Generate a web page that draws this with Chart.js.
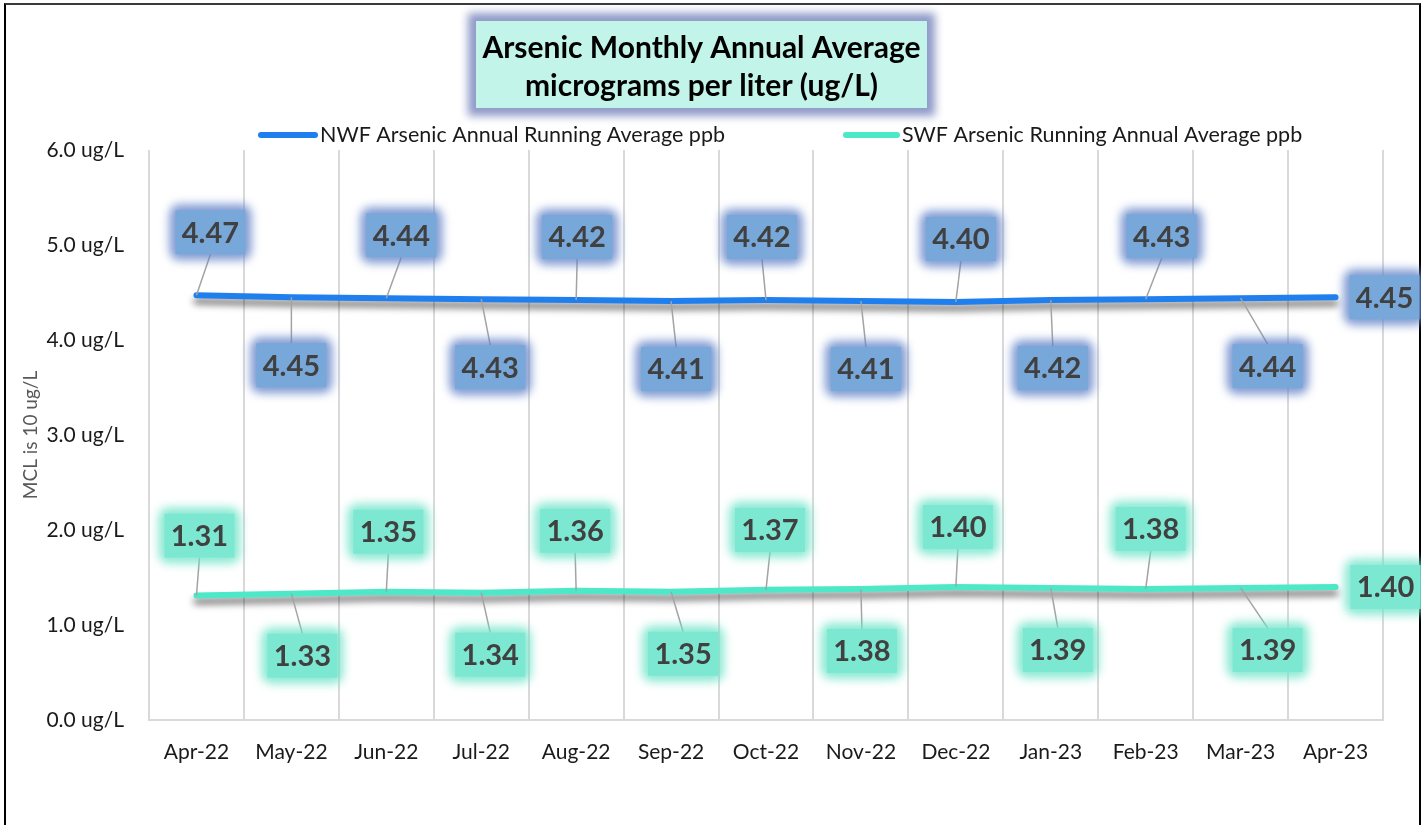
<!DOCTYPE html>
<html><head><meta charset="utf-8">
<script src="https://cdn.jsdelivr.net/npm/chart.js@4.4.1/dist/chart.umd.min.js"></script>
<style>
html,body{margin:0;padding:0;background:#fff;overflow:hidden;width:1421px;height:825px}
#frame{position:absolute;left:4px;top:3px;width:1417px;height:900px;border-left:2px solid #000;border-right:2px solid #000;border-top:2px solid #3a3a3a;box-sizing:border-box}
#wrap{position:absolute;left:0;top:0;width:1421px;height:825px}
</style></head><body>
<div id="frame"></div>
<div id="wrap"><canvas id="c" width="1421" height="825"></canvas></div>
<script>
// ---- data ----
const months = ['Apr-22','May-22','Jun-22','Jul-22','Aug-22','Sep-22','Oct-22','Nov-22','Dec-22','Jan-23','Feb-23','Mar-23','Apr-23'];
const nwfValues = [4.47,4.45,4.44,4.43,4.42,4.41,4.42,4.41,4.40,4.42,4.43,4.44,4.45];
const swfValues = [1.31,1.33,1.35,1.34,1.36,1.35,1.37,1.38,1.40,1.39,1.38,1.39,1.40];
const seriesNames = ['NWF Arsenic Annual Running Average ppb','SWF Arsenic Running Annual Average ppb'];
const titleLines = ['Arsenic Monthly Annual Average','micrograms per liter (ug/L)'];
const yAxisTitle = 'MCL is 10 ug/L';
const yUnit = ' ug/L';

// ---- styles ----
const FONT = 'Lato, "Open Sans", sans-serif';
const nwfColor = '#1f7fee';
const swfColor = '#4ce8c8';
const labelStyles = [
  {fill:'#78a8da', glow:'rgba(98,130,200,0.8)', dx:[14,0,15,9,1,5,-4,5,5,2,16,27,49], dyAbove:-63, dyBelow:68},
  {fill:'#7ce8d2', glow:'rgba(110,228,200,0.8)', dx:[3,11,2,9,-1,12,4,1,2,7,5,27,50], dyAbove:-60, dyBelow:62}
];

const titlePlugin = {
  id:'titleBox',
  beforeDraw(chart){
    const ctx = chart.ctx;
    const x0=476, y0=21, w=451, h=87;
    ctx.save();
    ctx.filter='blur(4px)';
    ctx.fillStyle='#8f9ac8';
    ctx.fillRect(x0-8,y0-8,w+16,h+16);
    ctx.filter='none';
    ctx.fillStyle='#c2f4ea';
    ctx.fillRect(x0,y0,w,h);
    ctx.fillStyle='#000';
    ctx.font='bold 30px '+FONT;
    ctx.textAlign='center';
    ctx.textBaseline='middle';
    ctx.fillText(titleLines[0], x0+w/2, 48);
    ctx.fillText(titleLines[1], x0+w/2, 86);
    ctx.restore();
  }
};

const legendPlugin = {
  id:'customLegend',
  afterDraw(chart){
    const ctx=chart.ctx;
    const pos=[[258,318],[843,900]];
    const y=135;
    ctx.save();
    chart.data.datasets.forEach((ds,i)=>{
      ctx.strokeStyle=ds.borderColor;
      ctx.lineWidth=6;
      ctx.lineCap='round';
      ctx.beginPath();
      ctx.moveTo(pos[i][0]+3,y);ctx.lineTo(pos[i][1]-3,y);ctx.stroke();
      ctx.fillStyle='#1a1a1a';
      ctx.font='21.5px '+FONT;
      ctx.textAlign='left';ctx.textBaseline='middle';
      ctx.fillText(ds.label,pos[i][1]+2,y);
    });
    ctx.restore();
  }
};

const shadowPlugin = {
  id:'lineShadow',
  beforeDatasetDraw(chart){
    const ctx=chart.ctx;
    ctx.save();
    ctx.shadowColor='rgba(0,0,0,0.55)';
    ctx.shadowBlur=7;
    ctx.shadowOffsetY=6;
  },
  afterDatasetDraw(chart){ chart.ctx.restore(); }
};

const labelPlugin = {
  id:'valueLabels',
  afterDatasetsDraw(chart){
    const ctx=chart.ctx;
    chart.data.datasets.forEach((ds,di)=>{
      const meta=chart.getDatasetMeta(di);
      const st=labelStyles[di];
      const n=ds.data.length;
      meta.data.forEach((pt,i)=>{
        const last=i===n-1;
        const above=(i%2===0)&&!last;
        const cx=pt.x+st.dx[i];
        const cy=last?pt.y:pt.y+(above?st.dyAbove:st.dyBelow);
        const w=70,h=44;
        ctx.save();
        if(!last){
          ctx.strokeStyle='#a3a3a3';ctx.lineWidth=1.5;
          ctx.beginPath();ctx.moveTo(pt.x,pt.y);
          ctx.lineTo(cx,above?cy+h/2:cy-h/2);ctx.stroke();
        }
        ctx.filter='blur(5px)';
        ctx.fillStyle=st.glow;
        ctx.beginPath();
        ctx.roundRect(cx-w/2-6,cy-h/2-6,w+12,h+12,10);
        ctx.fill();
        ctx.filter='none';
        ctx.fillStyle=st.fill;
        ctx.fillRect(cx-w/2,cy-h/2,w,h);
        ctx.fillStyle='#404040';
        ctx.font='bold 29px '+FONT;
        ctx.textAlign='center';ctx.textBaseline='middle';
        ctx.fillText(ds.data[i].toFixed(2),cx,cy+1);
        ctx.restore();
      });
    });
  }
};

new Chart(document.getElementById('c'),{
  type:'line',
  data:{
    labels:months,
    datasets:[
      {label:seriesNames[0],data:nwfValues,borderColor:nwfColor,backgroundColor:nwfColor,borderWidth:6,pointRadius:0,borderCapStyle:'round',tension:0,clip:false},
      {label:seriesNames[1],data:swfValues,borderColor:swfColor,backgroundColor:swfColor,borderWidth:6,pointRadius:0,borderCapStyle:'round',tension:0,clip:false}
    ]
  },
  options:{
    responsive:false,
    animation:false,
    devicePixelRatio:1,
    layout:{padding:{left:0,top:150,right:38,bottom:0}},
    plugins:{legend:{display:false},title:{display:false},tooltip:{enabled:false}},
    scales:{
      x:{
        offset:true,
        grid:{offset:true,color:'#d9d9d9',lineWidth:2,drawTicks:false},
        border:{color:'#d9d9d9',width:2},
        ticks:{color:'#1a1a1a',font:{family:FONT,size:21},padding:20,maxRotation:0},
        afterFit(s){s.height=105;}
      },
      y:{
        min:0,max:6,
        grid:{display:false},
        border:{display:false},
        ticks:{stepSize:1,color:'#1a1a1a',font:{family:FONT,size:21},padding:17,callback:v=>v.toFixed(1)+yUnit},
        title:{display:true,text:yAxisTitle,color:'#595959',font:{family:FONT,size:19},padding:{top:19,bottom:0}},
        afterFit(s){s.width=149;}
      }
    }
  },
  plugins:[titlePlugin,shadowPlugin,labelPlugin,legendPlugin]
});
</script>
</body></html>
